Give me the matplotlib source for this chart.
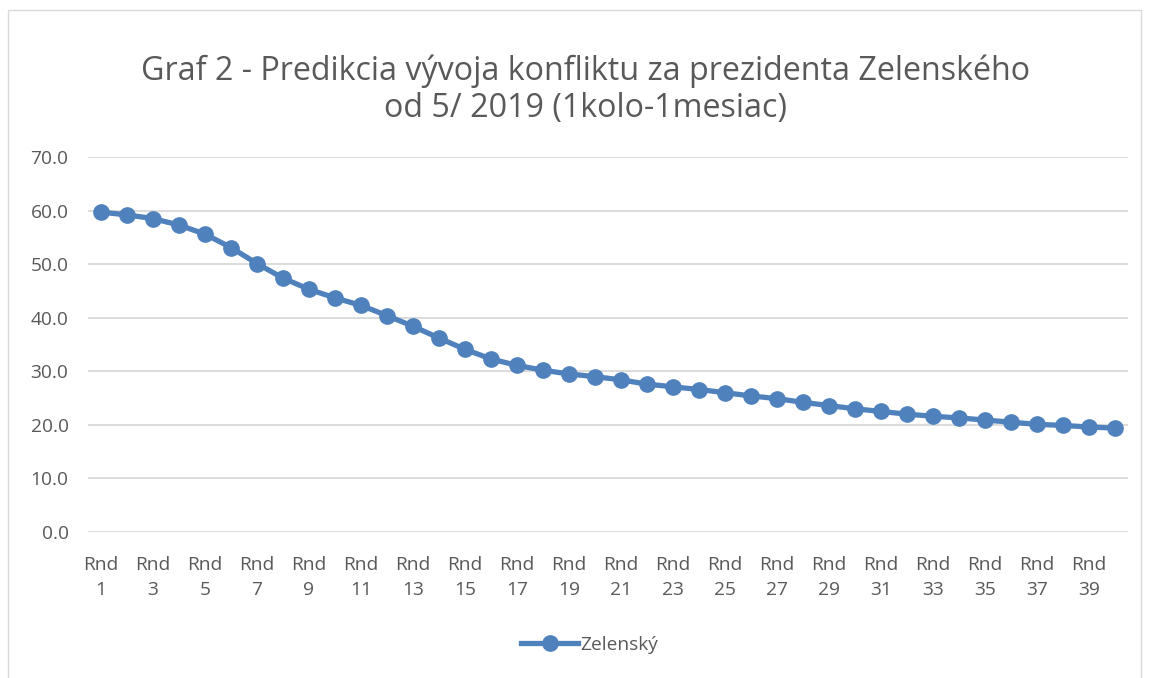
import matplotlib
matplotlib.use("Agg")
import matplotlib.pyplot as plt
from matplotlib.patches import Rectangle

# Hodnoty odčítané z grafu
rounds = list(range(1, 41))
zelensky = [59.7, 59.2, 58.5, 57.3, 55.6, 53.1, 50.1, 47.4, 45.3, 43.7,
            42.3, 40.4, 38.4, 36.2, 34.1, 32.3, 31.1, 30.2, 29.5, 29.0,
            28.4, 27.6, 27.1, 26.6, 26.0, 25.4, 24.9, 24.2, 23.6, 23.0,
            22.5, 22.0, 21.6, 21.3, 20.9, 20.5, 20.1, 19.9, 19.6, 19.4]
tick_labels = [f"Rnd\n{r}" for r in rounds[::2]]
y_ticks = [0, 10, 20, 30, 40, 50, 60, 70]
title = "Graf 2 - Predikcia vývoja konfliktu za prezidenta Zelenského\nod 5/ 2019 (1kolo-1mesiac)"

plt.rcParams['font.family'] = ['Open Sans', 'DejaVu Sans']
text_color = "#595959"
grid_color = "#D9D9D9"
line_color = "#4F81BD"

fig = plt.figure(figsize=(11.49, 6.78), dpi=100)
ax = fig.add_axes([88 / 1149, 1 - 532 / 678, (1128 - 88) / 1149, (532 - 157) / 678])

# okraj grafu
fig.patches.append(Rectangle((8 / 1149, -0.01), (1141 - 8) / 1149, 1 - 10 / 678 + 0.01,
                             transform=fig.transFigure, fill=False,
                             edgecolor=grid_color, linewidth=1))

ax.plot(rounds, zelensky, color=line_color, linewidth=3.8, marker="o",
        markersize=11, label="Zelenský", zorder=3)

ax.set_xlim(0.5, 40.5)
ax.set_ylim(0, 70)
ax.set_yticks(y_ticks)
ax.set_yticklabels([f"{v:.1f}" for v in y_ticks])
ax.set_xticks(rounds[::2])
ax.set_xticklabels(tick_labels, linespacing=1.55)
ax.grid(axis="y", color=grid_color, linewidth=1.3)
ax.set_axisbelow(True)
for s in ax.spines.values():
    s.set_visible(False)
ax.tick_params(axis="both", length=0, labelsize=13.8, colors=text_color)
ax.tick_params(axis="y", pad=14)
ax.tick_params(axis="x", pad=17)

fig.text(0.5095, 1 - 90 / 678, title, ha="center", va="center", fontsize=23.2,
         color=text_color, linespacing=1.18)

fig.legend(loc="center", bbox_to_anchor=(0.513, 1 - 645 / 678), frameon=False,
           fontsize=13.8, labelcolor=text_color, handlelength=3.0,
           handletextpad=0.1)

fig.savefig("out.png", dpi=100)
